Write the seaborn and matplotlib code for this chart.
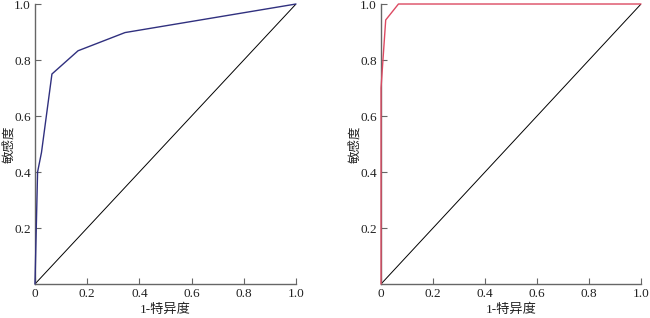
import matplotlib
matplotlib.use("Agg")
import matplotlib.pyplot as plt
import seaborn as sns
import pandas as pd

sns.set_style("ticks")
plt.rcParams['font.family'] = ['Liberation Serif', 'Noto Sans CJK SC']

# ROC data
fpr_a = [0.0, 0.01, 0.025, 0.065, 0.165, 0.345, 1.0]
tpr_a = [0.0, 0.40, 0.47, 0.75, 0.833, 0.898, 1.0]
fpr_b = [0.0, 0.0, 0.018, 0.067, 1.0]
tpr_b = [0.0, 0.70, 0.943, 1.0, 1.0]
diag = [0.0, 1.0]
xticks = [0, 0.2, 0.4, 0.6, 0.8, 1.0]
xticklabels = ["0", "0.2", "0.4", "0.6", "0.8", "1.0"]
yticks = [0.2, 0.4, 0.6, 0.8, 1.0]
yticklabels = ["0.2", "0.4", "0.6", "0.8", "1.0"]
xlabel = "1-特异度"
ylabel = "敏感度"

fig = plt.figure(figsize=(6.5, 3.18), dpi=100)
ax1 = fig.add_axes([0.0538, 0.1069, 0.4016, 0.8805])
ax2 = fig.add_axes([0.5862, 0.1069, 0.4000, 0.8805])

spine_c = "#666666"
for ax, fx, ty, col in [(ax1, fpr_a, tpr_a, "#30307f"), (ax2, fpr_b, tpr_b, "#dc4a62")]:
    sns.lineplot(x=diag, y=diag, ax=ax, color="black", lw=0.7, sort=False,
                 estimator=None)
    sns.lineplot(x=fx, y=ty, ax=ax, color=col, lw=1.0, sort=False,
                 estimator=None, zorder=3, clip_on=False)
    ax.set_xlim(0, 1)
    ax.set_ylim(0, 1)
    ax.set_xticks(xticks)
    ax.set_xticklabels(xticklabels)
    ax.set_yticks(yticks)
    ax.set_yticklabels(yticklabels)
    ax.tick_params(direction="in", length=4, width=0.8, colors=spine_c,
                   labelcolor="#222222", labelsize=9.5, pad=3)
    for s in ["top", "right"]:
        ax.spines[s].set_visible(False)
    for s in ["left", "bottom"]:
        ax.spines[s].set_color(spine_c)
        ax.spines[s].set_linewidth(1.0)
    ax.set_xlabel(xlabel, fontsize=9.5, color="#222222")
    ax.set_ylabel(ylabel, fontsize=9, color="#222222")
    ax.xaxis.set_label_coords(0.5, -0.068)
    ax.xaxis.label.set_va("top")
    ax.yaxis.set_label_coords(-0.075, 0.5)
    for sp in ax.spines.values():
        sp.set_clip_on(False)

fig.savefig("out.png", dpi=100)
